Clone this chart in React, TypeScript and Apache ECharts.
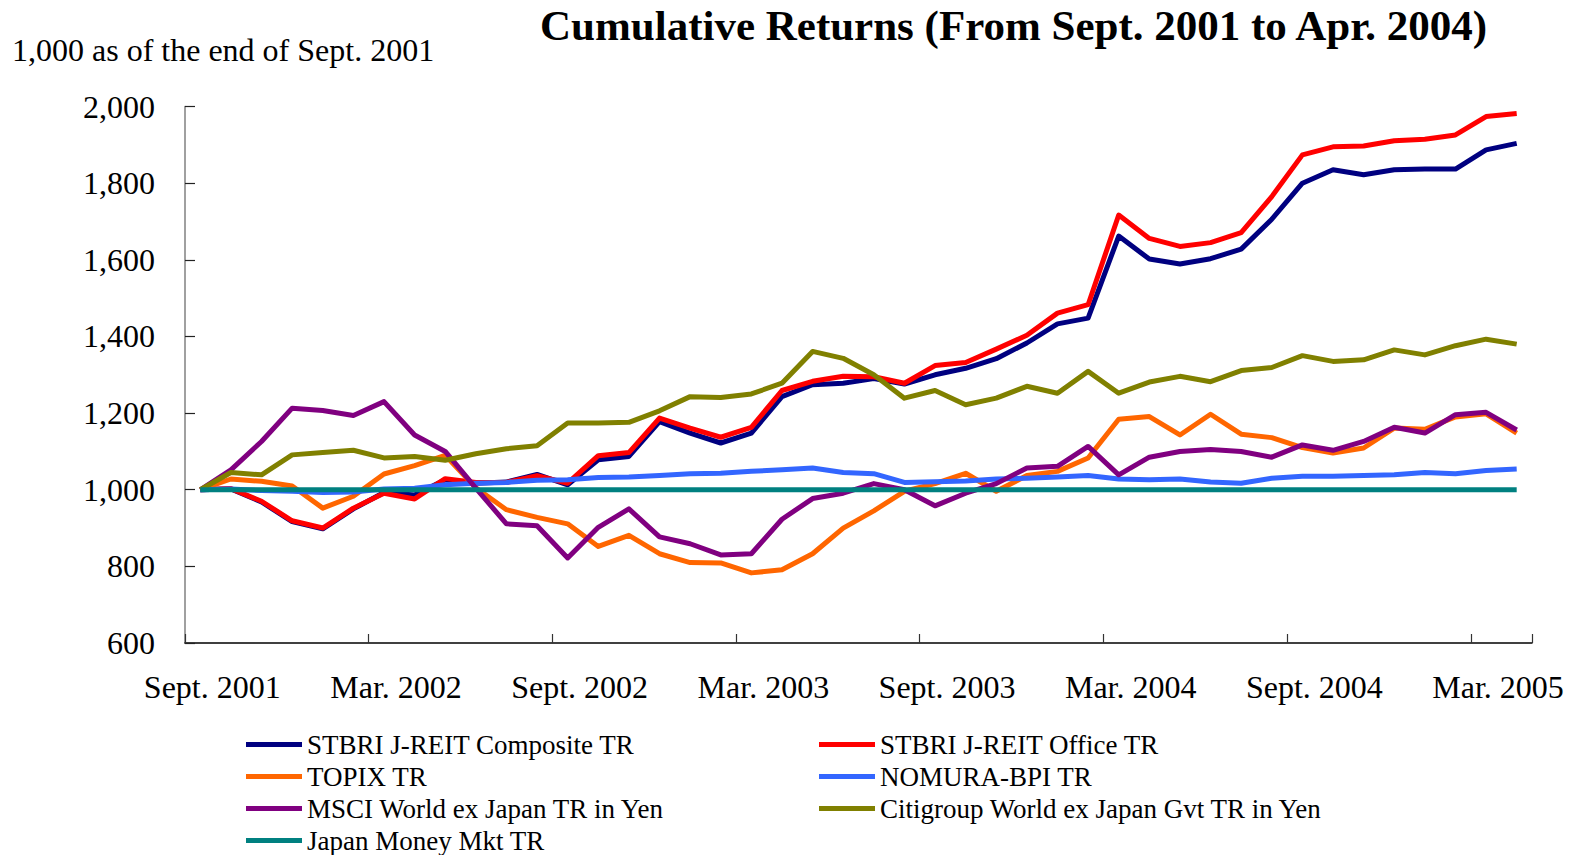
import React, { useEffect, useRef } from "react";
import * as echarts from "echarts";

const categories = [
  "Sept. 2001", "Oct. 2001", "Nov. 2001", "Dec. 2001", "Jan. 2002", "Feb. 2002",
  "Mar. 2002", "Apr. 2002", "May 2002", "June 2002", "July 2002", "Aug. 2002",
  "Sept. 2002", "Oct. 2002", "Nov. 2002", "Dec. 2002", "Jan. 2003", "Feb. 2003",
  "Mar. 2003", "Apr. 2003", "May 2003", "June 2003", "July 2003", "Aug. 2003",
  "Sept. 2003", "Oct. 2003", "Nov. 2003", "Dec. 2003", "Jan. 2004", "Feb. 2004",
  "Mar. 2004", "Apr. 2004", "May 2004", "June 2004", "July 2004", "Aug. 2004",
  "Sept. 2004", "Oct. 2004", "Nov. 2004", "Dec. 2004", "Jan. 2005", "Feb. 2005",
  "Mar. 2005", "Apr. 2005",
];

const compositeTR = [
  1000, 1002, 968, 917, 898, 950, 993, 986, 1026, 1017, 1020, 1040, 1013,
  1078, 1087, 1178, 1148, 1122, 1148, 1243, 1274, 1278, 1290,
  1276, 1300, 1317, 1342, 1383, 1433, 1448, 1662, 1602, 1589, 1603,
  1628, 1706, 1800, 1835, 1822, 1835, 1837, 1837, 1887, 1904,
];

const officeTR = [
  1000, 1003, 970, 919, 900, 952, 991, 976, 1029, 1019, 1019, 1037, 1017,
  1089, 1097, 1187, 1161, 1137, 1163, 1259, 1283, 1296, 1295,
  1278, 1324, 1332, 1367, 1403, 1461, 1483, 1717, 1656, 1635, 1645,
  1671, 1765, 1874, 1895, 1897, 1911, 1915, 1926, 1974, 1982,
];

const topixTR = [
  1000, 1028, 1022, 1010, 952, 983, 1041, 1063, 1090, 1005, 948, 928, 911,
  852, 881, 833, 810, 809, 783, 791, 833, 900, 945,
  996, 1016, 1043, 996, 1037, 1048, 1083, 1184, 1191, 1143, 1197,
  1145, 1136, 1110, 1096, 1109, 1161, 1158, 1190, 1198, 1148,
];

const nomuraBPI = [
  1000, 1002, 998, 996, 993, 994, 1002, 1004, 1013, 1017, 1019, 1025, 1026,
  1032, 1033, 1037, 1042, 1043, 1048, 1052, 1057, 1045, 1042,
  1019, 1021, 1023, 1028, 1030, 1033, 1037, 1028, 1026, 1028, 1020,
  1017, 1030, 1035, 1035, 1037, 1039, 1045, 1042, 1050, 1054,
];

const msciWorld = [
  1000, 1052, 1126, 1213, 1207, 1194, 1230, 1143, 1100, 1004, 911, 906, 822,
  902, 950, 877, 859, 830, 833, 923, 977, 991, 1016,
  1000, 958, 991, 1016, 1057, 1061, 1113, 1039, 1085, 1100, 1105,
  1100, 1085, 1117, 1103, 1126, 1163, 1148, 1196, 1202, 1156,
];

const citiWGBI = [
  1000, 1045, 1039, 1091, 1097, 1103, 1083, 1087, 1077, 1094, 1107, 1115, 1174,
  1174, 1176, 1206, 1243, 1241, 1250, 1278, 1361, 1343, 1300,
  1239, 1259, 1222, 1239, 1270, 1252, 1309, 1252, 1281, 1296, 1282,
  1311, 1319, 1350, 1335, 1339, 1365, 1352, 1376, 1393, 1380,
];

const moneyMkt = [
  1000, 1000, 1000, 1000, 1000, 1000, 1000, 1000, 1000, 1000, 1000, 1000, 1000,
  1000, 1000, 1000, 1000, 1000, 1000, 1000, 1000, 1000, 1000,
  1000, 1000, 1000, 1000, 1000, 1000, 1000, 1000, 1000, 1000, 1000,
  1000, 1000, 1000, 1000, 1000, 1000, 1000, 1000, 1000, 1000,
];

const seriesNames = [
  "STBRI J-REIT Composite TR",
  "STBRI J-REIT Office TR",
  "TOPIX TR",
  "NOMURA-BPI TR",
  "MSCI World ex Japan TR in Yen",
  "Citigroup World ex Japan Gvt TR in Yen",
  "Japan Money Mkt TR",
];
const seriesColors = ["#000080", "#FF0000", "#FF6600", "#3366FF", "#800080", "#808000", "#008080"];
const seriesData = [compositeTR, officeTR, topixTR, nomuraBPI, msciWorld, citiWGBI, moneyMkt];

const FONT = "'Liberation Serif', 'Times New Roman', serif";

export default function App() {
  const ref = useRef<HTMLDivElement>(null);

  useEffect(() => {
    if (!ref.current) return;
    const chart = echarts.init(ref.current, undefined, { renderer: "svg" });
    const legendText = { fontFamily: FONT, fontSize: 27, color: "#000" };
    const legendBase = {
      orient: "vertical",
      padding: 0,
      itemWidth: 56,
      itemHeight: 5,
      itemGap: 5,
      icon: "rect",
      textStyle: legendText,
    };
    chart.setOption({
      animation: false,
      backgroundColor: "#fff",
      title: {
        text: "Cumulative Returns (From Sept. 2001 to Apr. 2004)",
        left: 535,
        top: -1,
        textStyle: { fontFamily: FONT, fontSize: 43, fontWeight: "bold", color: "#000" },
      },
      graphic: [
        {
          type: "text",
          left: 12,
          top: 34,
          style: {
            text: "1,000 as of the end of Sept. 2001",
            fontFamily: FONT,
            fontSize: 32,
            fill: "#000",
          },
        },
      ],
      legend: [
        {
          ...legendBase,
          left: 246,
          top: 731,
          data: [seriesNames[0], seriesNames[2], seriesNames[4]],
        },
        {
          ...legendBase,
          left: 246,
          top: 827,
          data: [seriesNames[6]],
        },
        {
          ...legendBase,
          left: 819,
          top: 731,
          data: [seriesNames[1], seriesNames[3], seriesNames[5]],
        },
      ],
      grid: { left: 185, right: 41, top: 106.6, bottom: 212, containLabel: false },
      xAxis: {
        type: "category",
        data: categories,
        boundaryGap: true,
        axisLine: { lineStyle: { color: "#000", width: 1.5 } },
        axisTick: { show: true, interval: 5, inside: true, length: 9, lineStyle: { color: "#333", width: 1.2 } },
        axisLabel: {
          interval: 5,
          margin: 28,
          padding: [0, 0, 0, 24],
          fontFamily: FONT,
          fontSize: 32,
          color: "#000",
        },
        splitLine: { show: false },
      },
      yAxis: {
        type: "value",
        min: 600,
        max: 2000,
        interval: 200,
        axisLine: { show: true, lineStyle: { color: "#808080", width: 1.5 } },
        axisTick: { show: true, inside: true, length: 10, lineStyle: { color: "#222", width: 1.2 } },
        axisLabel: {
          margin: 30,
          fontFamily: FONT,
          fontSize: 32,
          color: "#000",
          formatter: (v: number) => v.toLocaleString("en-US"),
        },
        splitLine: { show: false },
      },
      series: seriesNames.map((name, i) => ({
        name,
        type: "line",
        data: seriesData[i],
        color: seriesColors[i],
        symbol: "none",
        lineStyle: { width: 5, color: seriesColors[i], join: "round" },
        z: 2 + i,
      })),
    });
    return () => chart.dispose();
  }, []);

  return (
    <div
      ref={ref}
      style={{ position: "fixed", left: 0, top: 0, width: 1573, height: 855, background: "#fff" }}
    />
  );
}
